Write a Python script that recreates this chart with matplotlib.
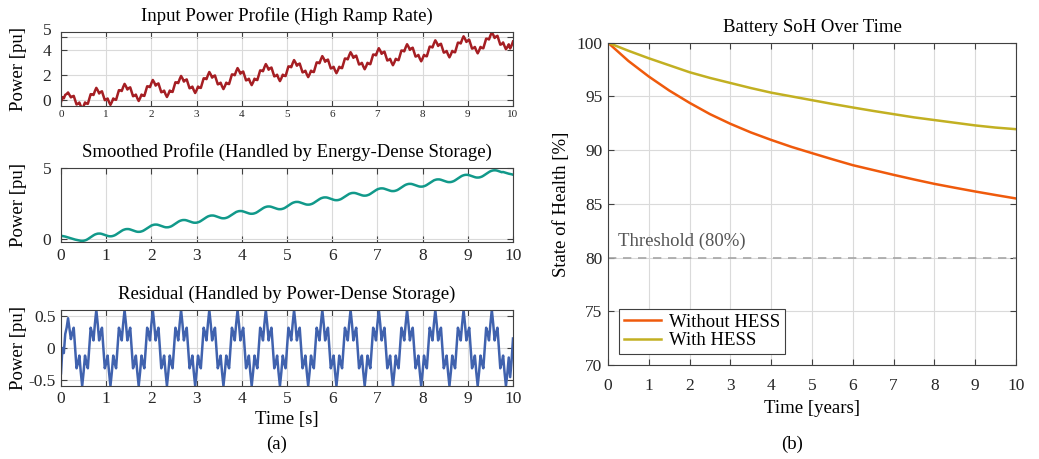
import numpy as np
import matplotlib.pyplot as plt

plt.rcParams['font.family'] = ['Liberation Serif', 'DejaVu Serif']
plt.rcParams['axes.linewidth'] = 0.8
plt.rcParams['axes.edgecolor'] = '#404040'
plt.rcParams['xtick.direction'] = 'in'
plt.rcParams['ytick.direction'] = 'in'
plt.rcParams['xtick.color'] = '#404040'
plt.rcParams['ytick.color'] = '#404040'
plt.rcParams['xtick.labelcolor'] = '#262626'
plt.rcParams['ytick.labelcolor'] = '#262626'

TXT = 13.5   # titles, axis labels, legend
TCK = 12.5   # tick labels

# time base of the power profiles: 16 cycles of 0.625 s, 20 samples per cycle
dt = 0.03125
t = np.arange(321) * dt
cycle_t = np.arange(17) * 0.625

# one period of the fast (residual) component
resid_cycle = [0.00, 0.32, 0.24, 0.12, 0.38, 0.60, 0.38, 0.12, 0.24, 0.32,
               0.00, -0.32, -0.24, -0.12, -0.38, -0.60, -0.38, -0.12, -0.24, -0.32]
resid_head = [-0.40, 0.00, -0.08, 0.22, 0.32, 0.47, 0.30, 0.14, 0.24, 0.32]
resid_tail = [-0.40, -0.15, -0.46, -0.20, 0.15]

# ripple left on the smoothed profile, and its mean level at each cycle boundary
smooth_cycle = [-0.05, 0.00, 0.05, 0.10, 0.14, 0.16, 0.17, 0.16, 0.14, 0.10,
                0.05, 0.00, -0.05, -0.10, -0.14, -0.16, -0.17, -0.16, -0.14, -0.10]
smooth_level = [-0.19, 0.13, 0.45, 0.76, 1.08, 1.40, 1.71, 2.03, 2.35,
                2.67, 2.98, 3.30, 3.62, 3.93, 4.25, 4.57, 4.88]
smooth_head = [0.25, 0.23, 0.21, 0.19, 0.16, 0.13, 0.10, 0.07, 0.04,
               0.01, -0.02, -0.04, -0.06]
smooth_tail = [4.72, 4.69, 4.66, 4.63, 4.60, 4.58, 4.56, 4.53]

# battery state of health over ten years
years = [0, 0.5, 1, 1.5, 2, 2.5, 3, 3.5, 4, 4.5, 5, 5.5, 6, 6.5, 7, 7.5, 8, 8.5, 9, 9.5, 10]
soh_without = [100, 98.3, 96.85, 95.55, 94.4, 93.35, 92.45, 91.65, 90.95, 90.3, 89.72,
               89.15, 88.6, 88.15, 87.7, 87.27, 86.86, 86.5, 86.15, 85.82, 85.5]
soh_with = [100, 99.25, 98.55, 97.9, 97.25, 96.72, 96.25, 95.78, 95.35, 95.0, 94.65,
            94.3, 93.97, 93.65, 93.35, 93.05, 92.8, 92.55, 92.3, 92.1, 91.95]
threshold = 80

smoothed = np.interp(t, cycle_t, smooth_level) + np.append(np.tile(smooth_cycle, 16), smooth_cycle[0])
smoothed[:len(smooth_head)] = smooth_head
smoothed[-len(smooth_tail):] = smooth_tail
residual = np.append(np.tile(resid_cycle, 16), resid_cycle[0])
residual[:len(resid_head)] = resid_head
residual[-len(resid_tail):] = resid_tail
power_in = smoothed + residual

fig = plt.figure(figsize=(10.39, 4.59), dpi=100)
W, H = 1039, 459


def add_ax(x0, y0, x1, y1):
    return fig.add_axes([x0 / W, 1 - y1 / H, (x1 - x0) / W, (y1 - y0) / H])


def style(ax):
    ax.grid(True, color='#dadada', linewidth=0.8)
    ax.set_axisbelow(True)
    ax.tick_params(top=True, right=True, length=4, width=0.8)


ax1 = add_ax(61, 31.7, 513, 106)
ax2 = add_ax(61, 168, 513, 242)
ax3 = add_ax(61, 310, 513, 386)
ax4 = add_ax(608, 42.7, 1016, 365)

ax1.plot(t, power_in, color='#a51e23', linewidth=1.8)
ax1.set_xlim(0, 10)
ax1.set_ylim(-0.48, 5.46)
ax1.set_yticks([0, 2, 4, 5])
ax1.set_yticklabels(['0', '2', '4', ''])
# the label of the top tick sits a little higher so it clears the "4"
ax1.annotate('5', xy=(0, 5), xycoords=('axes fraction', 'data'), xytext=(-7, 4.5),
             textcoords='offset points', ha='right', va='center', fontsize=TCK, color='#262626')
ax1.set_xticks(range(11))
ax1.tick_params(axis='x', labelsize=8, pad=3)
ax1.tick_params(axis='y', labelsize=TCK, pad=7)
ax1.set_ylabel('Power [pu]', fontsize=TXT)
ax1.yaxis.set_label_coords(-0.075, 0.5)
ax1.set_title('Input Power Profile (High Ramp Rate)', fontsize=TXT, pad=8)
style(ax1)

ax2.plot(t, smoothed, color='#11998a', linewidth=1.8)
ax2.set_xlim(0, 10)
ax2.set_ylim(-0.19, 5.0)
ax2.set_yticks([0, 5])
ax2.set_xticks(range(11))
ax2.tick_params(axis='x', labelsize=TCK, pad=4.5)
ax2.tick_params(axis='y', labelsize=TCK, pad=7)
ax2.set_ylabel('Power [pu]', fontsize=TXT)
ax2.yaxis.set_label_coords(-0.075, 0.5)
ax2.set_title('Smoothed Profile (Handled by Energy-Dense Storage)', fontsize=TXT, pad=8)
style(ax2)

ax3.plot(t, residual, color='#4062ae', linewidth=1.8)
ax3.set_xlim(0, 10)
ax3.set_ylim(-0.6, 0.6)
ax3.set_yticks([-0.5, 0, 0.5])
ax3.set_yticklabels(['-0.5', '0', '0.5'])
ax3.set_xticks(range(11))
ax3.tick_params(axis='x', labelsize=TCK, pad=3.5)
ax3.tick_params(axis='y', labelsize=TCK, pad=4)
ax3.set_ylabel('Power [pu]', fontsize=TXT)
ax3.yaxis.set_label_coords(-0.075, 0.5)
ax3.set_xlabel('Time [s]', fontsize=TXT, labelpad=3)
ax3.set_title('Residual (Handled by Power-Dense Storage)', fontsize=TXT, pad=8)
style(ax3)

ax4.plot(years, soh_without, color='#ef5a0c', linewidth=1.8, label='Without HESS')
ax4.plot(years, soh_with, color='#c2b022', linewidth=1.8, label='With HESS')
ax4.axhline(threshold, color='#a6a6a6', linestyle=(0, (5, 4)), linewidth=1.2)
ax4.text(0.25, threshold + 1.5, 'Threshold (80%)', color='#555555', fontsize=TXT, va='center')
ax4.set_xlim(0, 10)
ax4.set_ylim(70, 100)
ax4.set_xticks(range(11))
ax4.set_yticks(range(70, 101, 5))
ax4.tick_params(axis='x', labelsize=TCK, pad=9)
ax4.tick_params(axis='y', labelsize=TCK, pad=4)
ax4.set_xlabel('Time [years]', fontsize=TXT, labelpad=5)
ax4.set_ylabel('State of Health [%]', fontsize=TXT)
ax4.yaxis.set_label_coords(-0.094, 0.5)
ax4.set_title('Battery SoH Over Time', fontsize=TXT, pad=8)
style(ax4)
leg = ax4.legend(loc='lower left', fontsize=TXT, fancybox=False, framealpha=1,
                 edgecolor='#404040', borderpad=0.25, labelspacing=0.05,
                 handlelength=2.0, handletextpad=0.4, borderaxespad=0.6)
leg.get_frame().set_linewidth(0.8)

fig.text(277 / W, 1 - 444 / H, '(a)', fontsize=TXT, ha='center', va='center')
fig.text(792 / W, 1 - 444 / H, '(b)', fontsize=TXT, ha='center', va='center')

fig.savefig('out.png', dpi=100)
